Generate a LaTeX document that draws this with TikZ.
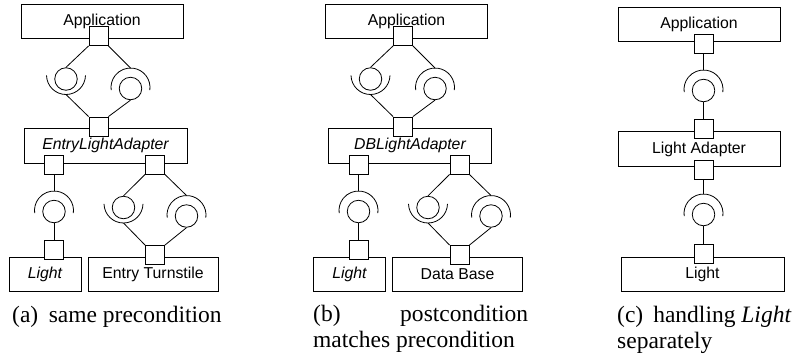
\documentclass[tikz,border=0pt]{standalone}
\usepackage{fontspec}
\setmainfont{Liberation Serif}
\setsansfont{Liberation Sans}
\tikzset{
  x=1pt,y=1pt,
  comp/.style={draw, line width=0.8pt, inner sep=0pt, minimum height=34pt, font=\fontsize{15.8}{18}\selectfont\sffamily},
  port/.style={draw, line width=0.8pt, fill=white, inner sep=0pt, minimum width=19pt, minimum height=19pt},
  ball/.style={draw, line width=0.8pt, circle, inner sep=0pt, minimum size=22.5pt},
  wire/.style={line width=0.8pt},
  capt/.style={anchor=base west, inner sep=0pt, font=\fontsize{23.5}{26}\selectfont\rmfamily}
}
% socket above a ball (opening downward)
\newcommand\sockA[1]{%
  \coordinate (#1-sc) at ([yshift=1pt]#1.center);
  \draw[wire] ([shift={(-8:19.5pt)}]#1-sc) arc[start angle=-8,end angle=188,radius=19.5pt];
  \coordinate (#1-top) at ([yshift=19.5pt]#1-sc);}
% socket below a ball (opening upward)
\newcommand\sockB[1]{%
  \coordinate (#1-sc) at ([yshift=4pt]#1.center);
  \draw[wire] ([shift={(181:19.5pt)}]#1-sc) arc[start angle=181,end angle=359,radius=19.5pt];
  \coordinate (#1-bot) at ([yshift=-19.5pt]#1-sc);}
% panels (a) and (b)
\newcommand\abpanel[2]{%
  \node[comp, minimum width=162pt] (app) at (102,-21) {Application};
  \node[comp, minimum width=163pt, minimum height=35pt] (adp) at (105.5,-145.5) {\itshape #1};
  \node[comp, minimum width=72pt] (light) at (45,-274) {\itshape Light};
  \node[comp, minimum width=130pt] (rb) at (153,-274) {#2};
  \node[port] (p1) at (98.5,-36) {};
  \node[port] (p2) at (98.5,-126.5) {};
  \node[port] (p3) at (54,-165) {};
  \node[port] (p4) at (155,-164.5) {};
  \node[port] (p5) at (54,-250) {};
  \node[port] (p6) at (155,-255) {};
  \node[ball] (b1) at (66,-79) {};
  \node[ball] (b2) at (130.5,-88.5) {};
  \node[ball] (b3) at (54,-211.5) {};
  \node[ball] (b4) at (123.5,-207.5) {};
  \node[ball] (b5) at (186.5,-216) {};
  \sockB{b1}\sockA{b2}\sockA{b3}\sockB{b4}\sockA{b5}
  \draw[wire] (p1.south west) -- (b1.north);
  \draw[wire] (b1-bot) -- (p2.north west);
  \draw[wire] (p1.south east) -- (b2-top);
  \draw[wire] (b2.south) -- (p2.north east);
  \draw[wire] (p3.south) -- (b3-top);
  \draw[wire] (b3.south) -- (p5.north);
  \draw[wire] (p4.south west) -- (b4.north);
  \draw[wire] (b4-bot) -- (p6.north west);
  \draw[wire] (p4.south east) -- (b5-top);
  \draw[wire] (b5.south) -- (p6.north east);
}
\begin{document}
\begin{tikzpicture}
\useasboundingbox (0,0) rectangle (794,-360);
\begin{scope}[name prefix=a-]
  \abpanel{EntryLightAdapter}{Entry Turnstile}
\end{scope}
\begin{scope}[xshift=304.5pt, name prefix=b-]
  \abpanel{DBLightAdapter}{Data Base}
\end{scope}
% panel (c)
\begin{scope}[name prefix=c-]
  \node[comp, minimum width=162pt, minimum height=34.5pt] (app) at (699,-24.5) {Application};
  \node[comp, minimum width=162pt, minimum height=35.5pt] (la) at (699,-149) {Light Adapter};
  \node[comp, minimum width=163pt] (light) at (702.5,-274) {Light};
  \node[port] (p1) at (703.5,-44) {};
  \node[port] (p2) at (703.5,-129) {};
  \node[port] (p3) at (703.5,-169.5) {};
  \node[port] (p4) at (703.5,-253.5) {};
  \node[ball] (c1) at (703.5,-90.5) {};
  \node[ball] (c2) at (703.5,-214.5) {};
  \sockA{c1}\sockA{c2}
  \draw[wire] (p1.south) -- (c1-top);
  \draw[wire] (c1.south) -- (p2.north);
  \draw[wire] (p3.south) -- (c2-top);
  \draw[wire] (c2.south) -- (p4.north);
\end{scope}
% captions
\node[capt] (capa) at (12,-322) {(a)\hspace{10.5pt}same precondition};
\node[capt] (capb1) at (313,-321) {\hbox to 215pt{(b)\hfill postcondition}};
\node[capt] (capb2) at (313,-347) {matches precondition};
\node[capt] (capc1) at (617,-322) {(c)\hspace{10pt}handling \textit{Light}};
\node[capt] (capc2) at (617,-348) {separately};
\end{tikzpicture}
\end{document}
